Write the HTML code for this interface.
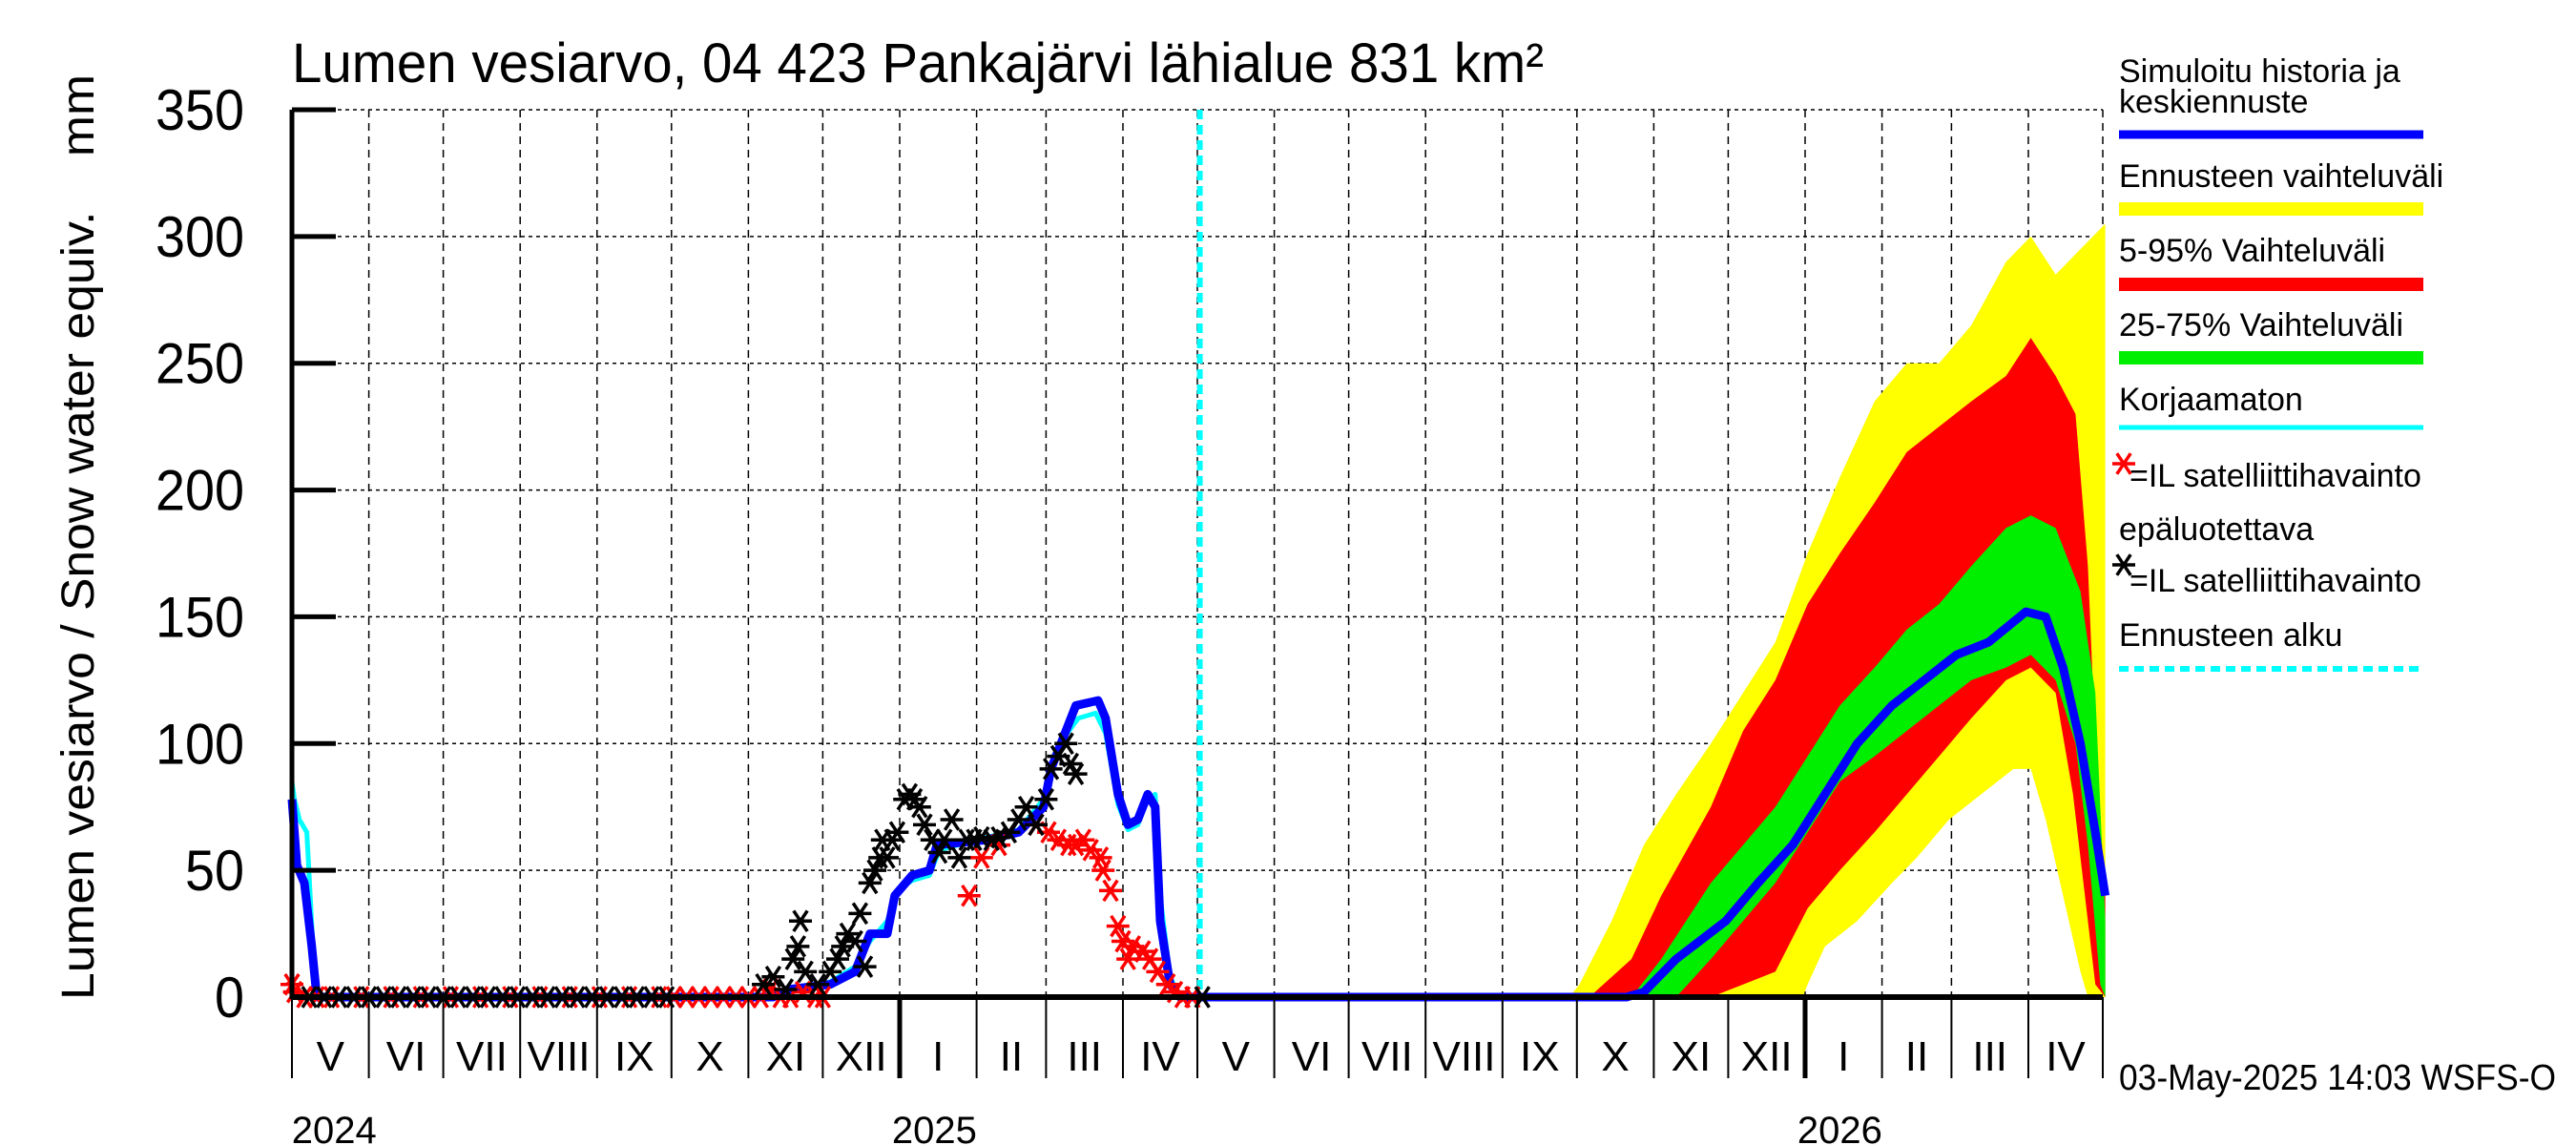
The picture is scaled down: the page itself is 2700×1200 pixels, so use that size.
<!DOCTYPE html>
<html><head><meta charset="utf-8"><style>
html,body{margin:0;padding:0;background:#fff;}
svg{display:block;font-family:"Liberation Sans",sans-serif;}
</style></head><body>
<svg id="chart" width="2700" height="1200" viewBox="0 0 2700 1200" xmlns="http://www.w3.org/2000/svg">
<text x="306" y="86" font-size="58" textLength="1312" lengthAdjust="spacingAndGlyphs">Lumen vesiarvo, 04 423 Pankajärvi lähialue 831 km²</text>
<text transform="translate(98,563) rotate(-90)" text-anchor="middle" font-size="48" textLength="970" lengthAdjust="spacingAndGlyphs" xml:space="preserve">Lumen vesiarvo / Snow water equiv.    mm</text>
<g id="grid"></g>
<g id="bands"></g>
<g id="lines"></g>
<g id="stars"></g>
<g id="axes"></g>
<g id="legend" font-size="34">
<text x="2221" y="86">Simuloitu historia ja</text>
<text x="2221" y="118">keskiennuste</text>
<line x1="2221" y1="141" x2="2540" y2="141" stroke="#0000ff" stroke-width="9"/>
<text x="2221" y="196">Ennusteen vaihteluväli</text>
<line x1="2221" y1="219" x2="2540" y2="219" stroke="#ffff00" stroke-width="14"/>
<text x="2221" y="274">5-95% Vaihteluväli</text>
<line x1="2221" y1="298" x2="2540" y2="298" stroke="#ff0000" stroke-width="14"/>
<text x="2221" y="352">25-75% Vaihteluväli</text>
<line x1="2221" y1="375" x2="2540" y2="375" stroke="#00ee00" stroke-width="14"/>
<text x="2221" y="430">Korjaamaton</text>
<line x1="2221" y1="448" x2="2540" y2="448" stroke="#00ffff" stroke-width="5"/>
<text x="2232" y="510">=IL satelliittihavainto</text>
<text x="2221" y="566">epäluotettava</text>
<text x="2232" y="620">=IL satelliittihavainto</text>
<text x="2221" y="677">Ennusteen alku</text>
<line x1="2221" y1="701" x2="2540" y2="701" stroke="#00ffff" stroke-width="6" stroke-dasharray="10 6"/>
</g>
<text x="2221" y="1142" font-size="38" textLength="458" lengthAdjust="spacingAndGlyphs">03-May-2025 14:03 WSFS-O</text>
</svg>
<script>
// days since 2024-01-01
const yTicks = [0,50,100,150,200,250,300,350];
const monthLabels = ["V","VI","VII","VIII","IX","X","XI","XII","I","II","III","IV","V","VI","VII","VIII","IX","X","XI","XII","I","II","III","IV"];
const yearLabels = ["2024","2025","2026"];
const yearDays = [138,380,745];
const forecastStartDay = 487;

const blueDays = [121,123,126,129,131,315,321,338,348,354,361,364,371,378,381,401,414,424,427,431,437,446,449,454,458,462,466,469,471,475,479,487,659,666,679,699,712,726,739,752,766,779,792,805,820,828,835,842,848,852];
const blueVals = [78,52,45,20,0,0,3,5,10,25,25,40,48,50,60,62,65,75,90,100,115,117,110,80,68,70,80,75,30,5,0,0,0,2,15,30,45,60,80,100,115,125,135,140,152,150,130,100,65,40];
const cyanDays = [121,122,124,127,130,132,315,321,338,348,354,361,365,371,378,382,401,414,424,428,432,438,445,449,454,458,462,466,469,471,475,479,487];
const cyanVals = [85,78,70,65,10,0,0,2,6,12,22,30,42,46,48,58,63,66,78,95,102,110,112,104,76,66,68,78,80,40,8,0,0];

const yMaxDays = [636,640,653,666,679,693,706,719,732,745,759,772,785,798,812,822,832,842,852];
const yMaxVals = [0,5,30,60,80,100,120,140,175,205,235,250,250,265,290,300,285,295,305];
const yMinDays = [636,730,732,739,752,766,776,789,802,815,822,828,835,842,845,852];
const yMinVals = [0,0,5,20,30,45,55,70,80,90,90,70,40,10,0,0];
const rMaxDays = [644,661,673,693,706,719,732,745,759,772,785,798,812,822,832,840,845,848,852];
const rMaxVals = [0,15,40,75,105,125,155,175,195,215,225,235,245,260,245,230,170,100,40];
const rMinDays = [644,693,706,719,732,745,759,772,785,798,812,822,832,839,845,848,852];
const rMinVals = [0,0,5,10,35,50,65,80,95,110,125,130,120,80,30,5,0];
const gMaxDays = [661,673,693,706,719,732,745,759,772,785,798,812,822,832,842,848,852];
const gMaxVals = [0,15,45,60,75,95,115,130,145,155,170,185,190,185,160,120,30];
const gMinDays = [661,679,693,706,719,732,745,759,772,785,798,812,822,832,840,845,850,852];
const gMinVals = [0,0,15,30,45,65,85,95,105,115,125,130,135,125,100,60,5,0];

const blackDays = [128,134,140,146,152,158,164,170,176,182,188,194,200,206,212,218,224,230,236,242,248,254,260,266,272,311,315,320,323,325,326,328,333,338,341,343,345,348,350,352,354,356,358,359,361,363,365,368,370,372,374,376,379,382,384,387,390,393,396,399,403,406,410,414,417,421,425,427,430,433,435,437,488];
const blackVals = [0,0,0,0,0,0,0,0,0,0,0,0,0,0,0,0,0,0,0,0,0,0,0,0,0,5,8,3,15,20,30,10,5,10,15,20,25,22,33,12,45,50,55,62,55,62,65,78,80,78,75,68,62,57,62,70,55,62,62,63,62,63,65,70,75,68,78,90,95,100,92,88,0];
const redDays = [121,122,126,131,137,149,161,173,185,197,209,221,233,245,257,269,275,280,285,290,295,300,305,310,314,318,322,327,332,335,394,399,406,421,426,430,434,437,440,443,447,448,451,454,456,458,460,464,467,470,474,477,480,484];
const redVals = [5,2,0,0,0,0,0,0,0,0,0,0,0,0,0,0,0,0,0,0,0,0,0,0,3,0,0,2,0,0,40,55,60,68,65,62,60,60,62,58,55,50,42,28,22,15,20,18,15,10,5,2,0,0];

const NS="http://www.w3.org/2000/svg";
const X0=306, X1=2204, Y0=1045, PPD=2.6, PPU=930/350;
function xs(d){return X0+(d-121)*PPD;}
function ys(v){return Y0-v*PPU;}
function mk(tag,attrs,parent){const e=document.createElementNS(NS,tag);for(const k in attrs)e.setAttribute(k,attrs[k]);parent.appendChild(e);return e;}
const grid=document.getElementById('grid'),axes=document.getElementById('axes'),bands=document.getElementById('bands'),lines=document.getElementById('lines'),stars=document.getElementById('stars');

const monthStarts=[];
for(let y=2024;y<=2026;y++)for(let m=0;m<12;m++){const d=(Date.UTC(y,m,1)-Date.UTC(2024,0,1))/86400000;if(d>=121&&d<=851)monthStarts.push({d:d,m:m});}

yTicks.forEach(v=>{
  if(v>0){const g=mk('line',{x1:X0,x2:X1,y1:ys(v),y2:ys(v),stroke:'#000','stroke-width':1.5,'stroke-dasharray':'4 4'},grid);
  
  }
  const t=mk('line',{x1:X0,x2:X0+46,y1:ys(v),y2:ys(v),stroke:'#000','stroke-width':5},axes);
  
  
  const l=mk('text',{x:256,y:ys(v)+21,'text-anchor':'end','font-size':60},axes);
  
  
  l.textContent=v;
  const len=String(v).length*31;
  l.setAttribute('textLength',len);
  l.setAttribute('lengthAdjust','spacingAndGlyphs');
});
monthStarts.forEach((ms,i)=>{
  const x=xs(ms.d);
  if(i>0){const g=mk('line',{x1:x,x2:x,y1:ys(350),y2:Y0,stroke:'#000','stroke-width':1.5,'stroke-dasharray':'8 6'},grid);
  
  }
  const isYear=ms.m===0;
  const t=mk('line',{x1:x,x2:x,y1:Y0,y2:1130,stroke:'#000','stroke-width':isYear?5:2},axes);
  
  
  if(i<monthLabels.length){
    const next=(i+1<monthStarts.length)?monthStarts[i+1].d:851;
    const lab=mk('text',{x:(x+xs(next))/2,y:1122,'text-anchor':'middle','font-size':44},axes);
    
    
    lab.textContent=monthLabels[i];
  }
});
yearLabels.forEach((s,i)=>{
  const t=mk('text',{x:xs(yearDays[i]),y:1198,'text-anchor':'middle','font-size':40},axes);
  
  
  t.textContent=s;
});
mk('line',{x1:X0,x2:X0,y1:ys(350),y2:Y0+2,stroke:'#000','stroke-width':5},axes);
mk('line',{x1:X0,x2:X1,y1:Y0,y2:Y0,stroke:'#000','stroke-width':6},axes);

function band(uD,uV,lD,lV,color){
  const pts=[];
  uD.forEach((d,i)=>pts.push(xs(d)+','+ys(uV[i])));
  for(let i=lD.length-1;i>=0;i--)pts.push(xs(lD[i])+','+ys(lV[i]));
  const p=mk('polygon',{points:pts.join(' '),fill:color},bands);
  
  return p;
}
const b1=band(yMaxDays,yMaxVals,yMinDays,yMinVals,'#ffff00');

const b2=band(rMaxDays,rMaxVals,rMinDays,rMinVals,'#ff0000');

const b3=band(gMaxDays,gMaxVals,gMinDays,gMinVals,'#00ee00');


function line(D,V,color,w){
  return mk('polyline',{points:D.map((d,i)=>xs(d)+','+ys(V[i])).join(' '),fill:'none',stroke:color,'stroke-width':w,'stroke-linejoin':'round'},lines);
}
const cy=line(cyanDays,cyanVals,'#00ffff',5);


const bl=line(blueDays,blueVals,'#0000ff',9);


const fs=mk('line',{x1:xs(forecastStartDay),x2:xs(forecastStartDay),y1:ys(350),y2:Y0,stroke:'#00ffff','stroke-width':6,'stroke-dasharray':'10 6'},lines);



function star(cx,cy,color,parent){
  const g=mk('g',{stroke:color,'stroke-width':3.5},parent);
  const r=12;
  mk('line',{x1:cx-r,x2:cx+r,y1:cy,y2:cy},g);
  mk('line',{x1:cx-r*0.6,x2:cx+r*0.6,y1:cy-r*0.9,y2:cy+r*0.9},g);
  mk('line',{x1:cx-r*0.6,x2:cx+r*0.6,y1:cy+r*0.9,y2:cy-r*0.9},g);
  return g;
}
redDays.forEach((d,i)=>{const s=star(xs(d),ys(redVals[i]),'#ff0000',stars);
  
  });
blackDays.forEach((d,i)=>{const s=star(xs(d),ys(blackVals[i]),'#000',stars);
  
  });
const lg=document.getElementById('legend');
const s1=star(2226,486,'#ff0000',lg);


const s2=star(2226,592,'#000',lg);


</script>
</body></html>
